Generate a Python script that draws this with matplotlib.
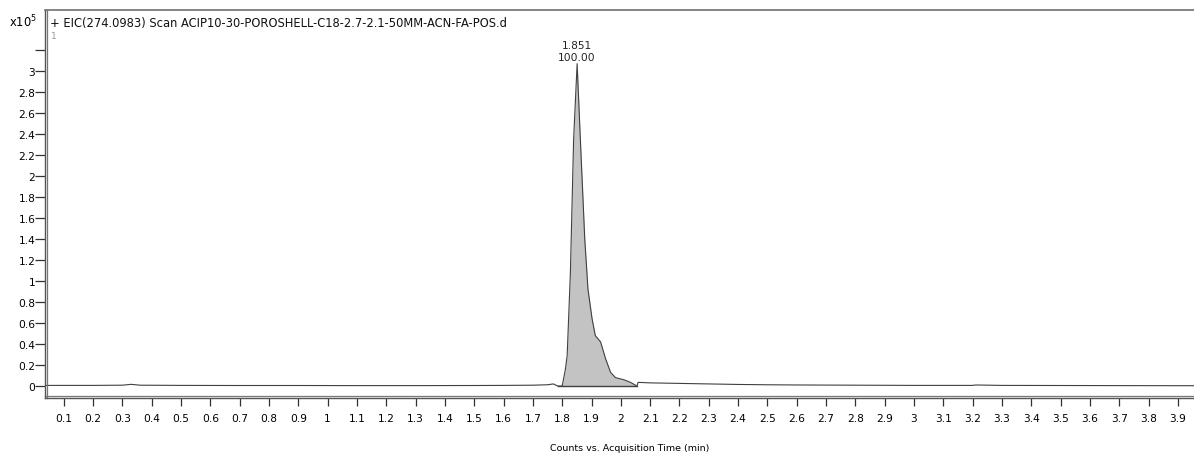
import numpy as np
import matplotlib
matplotlib.use('Agg')
import matplotlib.pyplot as plt
from matplotlib.transforms import offset_copy

# 数据 (强度单位 x10^5 counts)
times = [0.036, 0.1, 0.2, 0.3, 0.33, 0.36, 0.5, 0.7, 0.9, 1.1, 1.3, 1.5, 1.6, 1.7,
         1.75, 1.77, 1.785, 1.80, 1.811, 1.817, 1.828, 1.839, 1.851, 1.862, 1.877,
         1.888, 1.902, 1.913, 1.931, 1.948, 1.965, 1.982, 2.010, 2.033, 2.055,
         2.059, 2.1, 2.2, 2.3, 2.4, 2.5, 2.6, 2.8, 3.0, 3.2, 3.21, 3.3, 3.5, 3.7, 3.96]
intensity = [0.006, 0.006, 0.006, 0.008, 0.016, 0.008, 0.006, 0.005, 0.005, 0.004,
             0.004, 0.005, 0.006, 0.008, 0.012, 0.02, 0.0, 0.0, 0.16, 0.29, 1.08,
             2.35, 3.07, 2.35, 1.40, 0.92, 0.64, 0.48, 0.42, 0.26, 0.13, 0.08, 0.06,
             0.035, 0.0, 0.035, 0.03, 0.025, 0.02, 0.015, 0.012, 0.01, 0.008, 0.006,
             0.006, 0.01, 0.006, 0.005, 0.004, 0.003]
peak_rt = 1.851
peak_pct = 100.00
peak_start = 1.785
peak_end = 2.055

title = '+ EIC(274.0983) Scan ACIP10-30-POROSHELL-C18-2.7-2.1-50MM-ACN-FA-POS.d'
xticks = [round(0.1 * i, 1) for i in range(1, 40)]
yticks = [0, 0.2, 0.4, 0.6, 0.8, 1, 1.2, 1.4, 1.6, 1.8, 2, 2.2, 2.4, 2.6, 2.8, 3, 3.2]

plt.rcParams['font.family'] = ['DejaVu Sans']
plt.rcParams['font.size'] = 7.5

t = np.array(times)
y = np.array(intensity)

fig = plt.figure(figsize=(11.94, 4.56), dpi=100)
ax = fig.add_axes([45 / 1194, 57 / 456, 1 - 45 / 1194, 388 / 456])

# 峰面积填充
mask = (t >= peak_start) & (t <= peak_end)
ax.fill_between(t, y, 0, where=mask, color='#c3c3c3', linewidth=0)
ax.plot([peak_start, peak_end], [0, 0], color='#404040', lw=1)
ax.plot(t, y, color='#404040', lw=0.8)

ax.set_xlim(0.036, 3.955)
ax.set_ylim(-0.114, 3.581)

ax.set_xticks(xticks)
ax.set_xticklabels(['%g' % v for v in xticks])
ax.set_yticks(yticks)
ax.set_yticklabels(['%g' % v for v in yticks[:-1]] + [''])
ax.tick_params(axis='x', direction='out', length=6, width=0.9, color='#333333', pad=5,
               labelsize=7.7)
ax.tick_params(axis='y', direction='out', length=7, width=0.9, color='#333333', pad=0,
               labelsize=7.7)

ax.spines['right'].set_visible(False)
ax.spines['top'].set_color('#707070')
ax.spines['top'].set_linewidth(1.2)
ax.spines['left'].set_color('#555555')
ax.spines['bottom'].set_color('#555555')
ax.spines['left'].set_linewidth(1.0)
ax.spines['bottom'].set_linewidth(1.0)

# 双线框
ax.plot([0, 0], [0, 1], transform=offset_copy(ax.transAxes, fig=fig, x=2.5, units='dots'),
        color='#777777', lw=0.9, clip_on=False)
ax.plot([0, 1], [0, 0], transform=offset_copy(ax.transAxes, fig=fig, y=2.5, units='dots'),
        color='#777777', lw=0.9, clip_on=False)

# 标注
ax.annotate('%.3f\n%.2f' % (peak_rt, peak_pct), xy=(peak_rt, max(intensity)),
            xytext=(0, 1.5), textcoords='offset points', ha='center', va='bottom',
            fontsize=7.7, color='#222222', linespacing=1.15)

ax.text(0.004, 0.985, title, transform=ax.transAxes, ha='left', va='top', fontsize=8.3,
        color='#111111')
ax.text(0.005, 0.945, '1', transform=ax.transAxes, ha='left', va='top', fontsize=6.5,
        color='#999999')
fig.text(9 / 1194, 1 - 22 / 456, 'x10$^5$', ha='left', va='center', fontsize=8.3)

ax.set_xlabel('Counts vs. Acquisition Time (min)', fontsize=6.8, labelpad=16)
ax.xaxis.set_label_coords(0.509, -0.115)

fig.savefig('out.png', dpi=100)
